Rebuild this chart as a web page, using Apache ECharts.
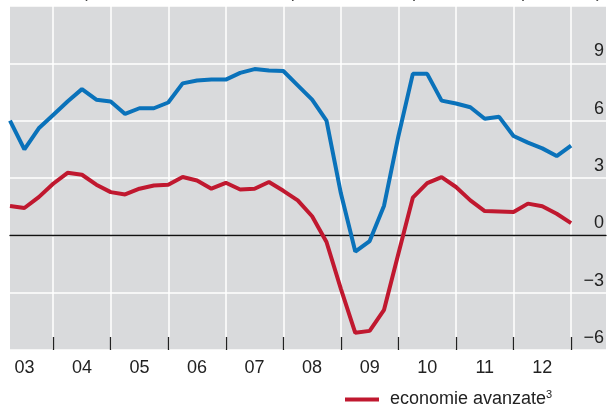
<!DOCTYPE html>
<html>
<head>
<meta charset="utf-8">
<script src="https://cdn.jsdelivr.net/npm/echarts@6/dist/echarts.min.js"></script>
<style>html,body{margin:0;padding:0;background:#fff}#c{width:607px;height:407px}</style>
</head>
<body>
<div id="c"></div>
<script>
// Quarterly observations, first point 2003 Q2 position, last 2013 Q1 position
var xStart = 2003.25;
var step = 0.25;
var blueSeries = [6.0, 4.5, 5.6, 6.3, 7.0, 7.65, 7.1, 7.0, 6.35, 6.65,
  6.65, 6.95, 7.95, 8.1, 8.15, 8.15, 8.5, 8.7, 8.63, 8.6,
  7.85, 7.1, 6.0, 2.2, -0.85, -0.3, 1.55, 5.2, 8.45, 8.45,
  7.05, 6.9, 6.7, 6.1, 6.2, 5.2, 4.85, 4.55, 4.15, 4.7];
var redSeries = [1.53, 1.43, 2.0, 2.7, 3.27, 3.17, 2.65, 2.26, 2.14, 2.44,
  2.61, 2.65, 3.05, 2.87, 2.44, 2.75, 2.4, 2.44, 2.79, 2.33,
  1.83, 1.0, -0.35, -2.8, -5.1, -5.0, -3.9, -0.95, 1.97, 2.73,
  3.05, 2.53, 1.83, 1.27, 1.25, 1.22, 1.66, 1.52, 1.13, 0.64];
var yearTicks = [2004, 2005, 2006, 2007, 2008, 2009, 2010, 2011, 2012, 2013];
var yearLabels = ['03', '04', '05', '06', '07', '08', '09', '10', '11', '12'];
var yTickLabels = [-6, -3, 0, 3, 6, 9];
var redName = 'economie avanzate';
var titleText = '(dati trimestrali; variazioni percentuali sul periodo corrispondente)';

function toPairs(arr) {
  return arr.map(function (v, i) { return [xStart + step * i, v]; });
}
var labelPositions = yearLabels.map(function (l, i) { return yearTicks[i] - 0.5; });

var chart = echarts.init(document.getElementById('c'), null, {renderer: 'canvas'});
var FONT = 'Liberation Sans';
chart.setOption({
  animation: false,
  backgroundColor: '#fff',
  textStyle: {fontFamily: FONT},
  title: {
    text: titleText,
    right: 0,
    top: -22,
    textStyle: {fontSize: 18, fontWeight: 'normal', color: '#444', fontFamily: FONT}
  },
  grid: {
    left: 10, right: 0, top: 6, bottom: 57,
    show: true, backgroundColor: '#d9dadc', borderWidth: 0
  },
  legend: {
    data: [redName],
    left: 340, top: 384,
    icon: 'rect', itemWidth: 34, itemHeight: 4,
    textStyle: {
      fontSize: 18, color: '#222', fontFamily: FONT, padding: [0, 0, 0, 6],
      rich: {sup: {fontSize: 11, verticalAlign: 'top', padding: [0, 0, 10, 0], color: '#222', fontFamily: FONT}}
    },
    formatter: function (n) { return n + '{sup|3}'; }
  },
  xAxis: [
    {
      type: 'value', min: xStart, max: 2013.607,
      axisLine: {show: true, onZero: true, lineStyle: {color: '#111', width: 1.3}},
      axisTick: {show: false}, axisLabel: {show: false}, splitLine: {show: false}
    },
    {
      type: 'value', min: xStart, max: 2013.607, position: 'bottom',
      axisLine: {show: false, onZero: false},
      axisTick: {show: true, inside: true, length: 13, customValues: yearTicks,
        lineStyle: {color: '#222', width: 1.3}},
      axisLabel: {show: true, customValues: labelPositions, margin: 9,
        fontSize: 18, color: '#222', fontFamily: FONT,
        formatter: function (v) { return yearLabels[Math.round(v - 0.5) - 2003]; }},
      splitLine: {show: true, lineStyle: {color: '#ffffff', width: 1.5}}
    }
  ],
  yAxis: {
    type: 'value', position: 'right', min: -6, max: 12, interval: 3,
    axisLine: {show: false}, axisTick: {show: false},
    splitLine: {show: true, lineStyle: {color: '#ffffff', width: 1.5}},
    axisLabel: {
      inside: true, margin: 2, fontSize: 18, color: '#222', fontFamily: FONT,
      verticalAlign: 'bottom', padding: [0, 0, 3, 0],
      formatter: function (v) {
        return yTickLabels.indexOf(v) >= 0 ? (v < 0 ? '\u2212' + Math.abs(v) : String(v)) : '';
      }
    }
  },
  series: [
    {
      name: 'blue', type: 'line', xAxisIndex: 0, data: toPairs(blueSeries),
      showSymbol: false, lineStyle: {color: '#0a72ba', width: 4}, itemStyle: {color: '#0a72ba'}
    },
    {
      name: redName, type: 'line', xAxisIndex: 0, data: toPairs(redSeries),
      showSymbol: false, lineStyle: {color: '#c0182f', width: 4}, itemStyle: {color: '#c0182f'}
    }
  ]
});
</script>
</body>
</html>
